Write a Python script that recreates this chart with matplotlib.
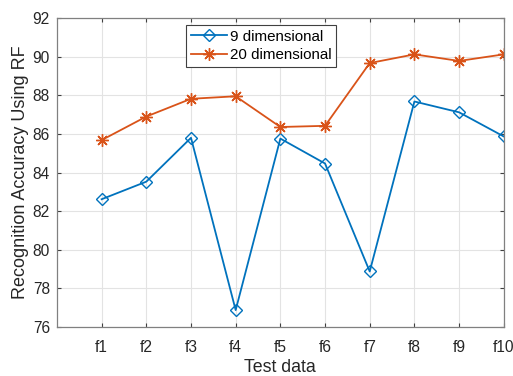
import matplotlib
matplotlib.use("Agg")
import matplotlib.pyplot as plt

categories = ["f1", "f2", "f3", "f4", "f5", "f6", "f7", "f8", "f9", "f10"]
dim9 = [82.62, 83.53, 85.80, 76.88, 85.76, 84.47, 78.88, 87.68, 87.12, 85.87]
dim20 = [85.68, 86.90, 87.82, 87.95, 86.36, 86.42, 89.67, 90.12, 89.78, 90.12]
yticks = [76, 78, 80, 82, 84, 86, 88, 90, 92]

plt.rcParams['font.family'] = ['Liberation Sans', 'DejaVu Sans']

fig = plt.figure(figsize=(5.13, 3.76), dpi=100)
ax = fig.add_axes([0.111, 0.130, 0.871, 0.822])

x = list(range(1, len(categories) + 1))
ax.plot(x, dim9, color='#0072BD', marker='D', markersize=6, markerfacecolor='none',
        markeredgewidth=1.0, linewidth=1.3, label='9 dimensional')
ax.plot(x, dim20, color='#D95319', marker=(8, 2, 0), markersize=9, markerfacecolor='none',
        markeredgewidth=1.0, linewidth=1.3, label='20 dimensional')

ax.set_xlim(0, 10)
ax.set_ylim(76, 92)
ax.set_xticks(x)
ax.set_xticklabels(categories)
ax.set_yticks(yticks)
ax.tick_params(direction='in', top=True, right=True, labelsize=11.2, colors='#404040',
               length=3, width=0.8)
ax.tick_params(axis='both', labelcolor='#262626')
ax.tick_params(axis='x', pad=9)
ax.tick_params(axis='y', pad=5)
ax.grid(True, color='#e3e3e3', linewidth=0.8)
ax.set_axisbelow(True)
for s in ax.spines.values():
    s.set_color('#808080')
    s.set_linewidth(0.9)

ax.set_xlabel('Test data', fontsize=12.8, color='#262626', labelpad=3)
ax.set_ylabel('Recognition Accuracy Using RF', fontsize=13, color='#262626', labelpad=3)

leg = ax.legend(loc='upper left', bbox_to_anchor=(0.289, 0.977), fontsize=10.9,
                frameon=True, fancybox=False, edgecolor='#404040', framealpha=1,
                handlelength=2.4, handletextpad=0.2, borderpad=0.3, labelspacing=0.3,
                borderaxespad=0)
leg.get_frame().set_linewidth(0.8)

fig.savefig('out.png', dpi=100)
